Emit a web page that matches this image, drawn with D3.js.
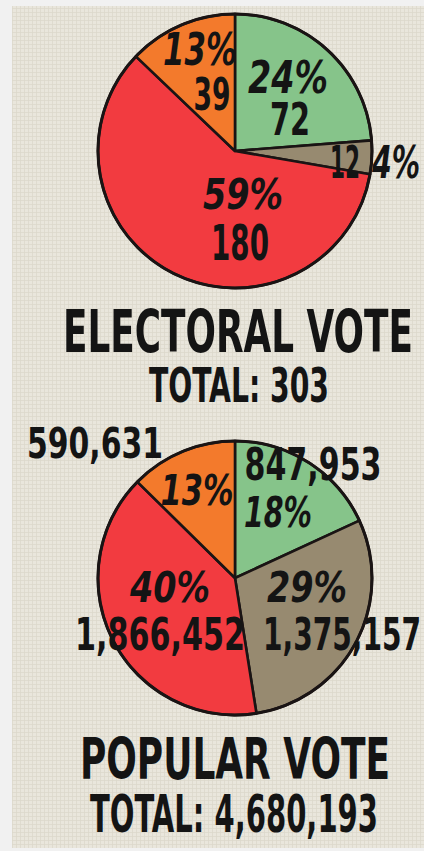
<!DOCTYPE html>
<html>
<head>
<meta charset="utf-8">
<script src="https://cdn.jsdelivr.net/npm/d3@7"></script>
<style>
  html, body { margin: 0; padding: 0; background: #f1f1f1; }
  text { font-family: "Liberation Sans Narrow", "DejaVu Sans Condensed", "Liberation Sans", sans-serif; font-weight: bold; fill: #141414; }
</style>
</head>
<body>
<div id="grafico"></div>
<script>
// slices, clockwise from 12 o'clock
var electoralVotes = [72, 12, 180, 39];
var electoralPct = ["24%", "4%", "59%", "13%"];
var popularVotes = [847953, 1375157, 1866452, 590631];
var popularPct = ["18%", "29%", "40%", "13%"];

var sliceColors = ["#86c48a", "#978a70", "#f23b40", "#f37a2c"];

var svgWidth = 424;
var svgHeight = 851;
var fmt = d3.format(",");

var svg = d3.select("#grafico")
  .append("svg")
  .attr("width", svgWidth)
  .attr("height", svgHeight);

// paper texture
var defs = svg.append("defs");
var pat = defs.append("pattern")
  .attr("id", "paper")
  .attr("width", 4).attr("height", 4)
  .attr("patternUnits", "userSpaceOnUse");
pat.append("rect").attr("width", 4).attr("height", 4).attr("fill", "#e9e6dc");
pat.append("path").attr("d", "M0 0.5H4M0.5 0V4").attr("stroke", "#dcd8cc").attr("stroke-width", 0.8);

svg.append("rect")
  .attr("x", 12).attr("y", 6)
  .attr("width", svgWidth - 12).attr("height", 842)
  .attr("fill", "url(#paper)");

var pie = d3.pie().sort(null).value(d => d);

function drawPie(cx, cy, r, values) {
  var arc = d3.arc().innerRadius(0).outerRadius(r);
  var g = svg.append("g").attr("transform", "translate(" + cx + "," + cy + ")");
  g.selectAll("path")
    .data(pie(values))
    .enter()
    .append("path")
    .attr("d", arc)
    .attr("fill", (d, i) => sliceColors[i])
    .attr("stroke", "#1a1414")
    .attr("stroke-width", 2.6)
    .attr("stroke-linejoin", "round");
  g.append("circle")
    .attr("r", r)
    .attr("fill", "none")
    .attr("stroke", "#1a1414")
    .attr("stroke-width", 3);
}

function label(txt, x, y, size, width, italic) {
  svg.append("text")
    .attr("x", x).attr("y", y)
    .attr("text-anchor", "middle")
    .attr("font-size", size)
    .attr("font-style", italic ? "italic" : "normal")
    .attr("textLength", width)
    .attr("lengthAdjust", "spacingAndGlyphs")
    .text(txt);
}

// electoral vote
drawPie(235, 151, 137, electoralVotes);
label(electoralPct[3], 200, 65, 44, 74, true);
label(electoralVotes[3], 212, 110, 45, 37, false);
label(electoralPct[0], 288, 93, 45, 80, true);
label(electoralVotes[0], 290, 135, 45, 40, false);
label(electoralVotes[1], 345, 178, 45, 30, false);
label(electoralPct[1], 396, 178, 45, 48, true);
label(electoralPct[2], 243, 209, 43, 80, true);
label(electoralVotes[2], 240, 260, 50, 58, false);

label("ELECTORAL VOTE", 238, 352, 58, 350, false);
label("TOTAL: " + fmt(d3.sum(electoralVotes)), 239, 402, 48, 180, false);

// popular vote
drawPie(235, 578, 137, popularVotes);
label(fmt(popularVotes[3]), 95, 458, 42, 136, false);
label(fmt(popularVotes[0]), 313, 480, 44, 137, false);
label(popularPct[3], 197, 505, 43, 73, true);
label(popularPct[0], 278, 527, 43, 68, true);
label(popularPct[2], 170, 602, 43, 80, true);
label(fmt(popularVotes[2]), 160, 650, 45, 170, false);
label(popularPct[1], 307, 602, 43, 80, true);
label(fmt(popularVotes[1]), 342, 650, 45, 158, false);

label("POPULAR VOTE", 235, 779, 57, 310, false);
label("TOTAL: " + fmt(d3.sum(popularVotes)), 234, 832, 51, 288, false);
</script>
</body>
</html>
